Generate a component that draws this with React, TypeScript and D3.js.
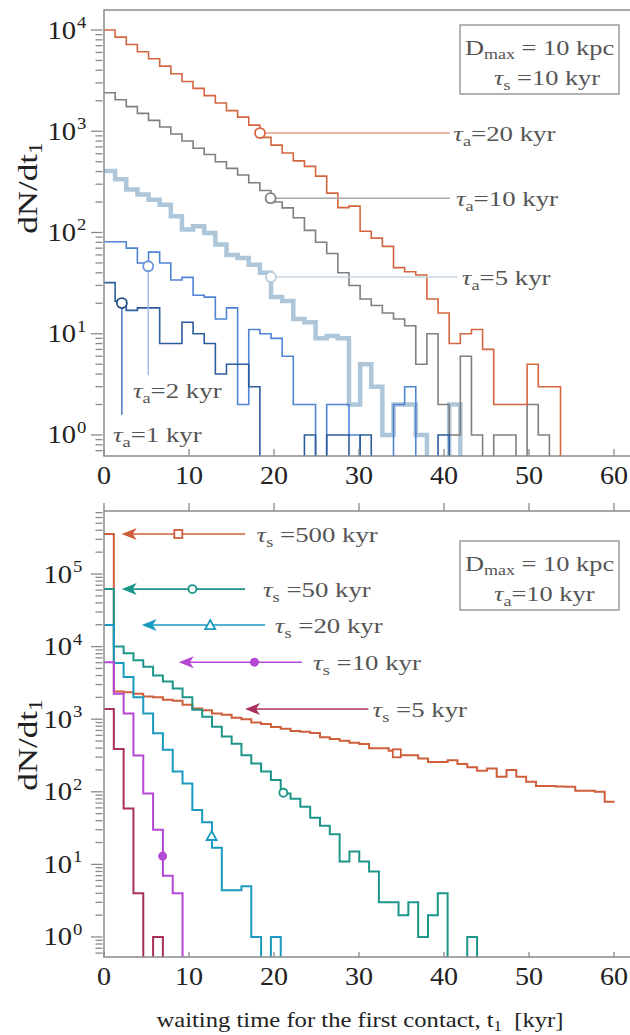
import React from 'react';
import * as d3 from 'd3';

const SERIF = "'Liberation Serif', 'Times New Roman', Times, serif";

// upper panel: tau_s = 10 kyr, bins of ~1.31 kyr
const topBinWidth = 1.31;
const tauA20 = [10000, 8500, 7200, 6100, 5200, 4400, 3700, 3100, 2650, 2250, 1900, 1600, 1380, 1150, 870, 730, 610, 510, 450, 360, 245, 176, 182, 103, 88, 73, 45, 41, 38, 22, 16, 8, 10, 11, 7, 2, 2, 2, 5, 3, 3];
const tauA10 = [2400, 2050, 1750, 1500, 1280, 1100, 940, 800, 680, 590, 500, 430, 370, 310, 260, 200, 175, 140, 105, 80, 62, 40, 30, 22, 19, 16, 14, 12, 5, 10, 2, 1, 6, 1, 0, 1, 1, 0, 2, 1];
const tauA5 = [405, 335, 266, 237, 211, 188, 145, 107, 115, 99, 76, 60, 56, 48, 40, 23, 21, 14, 13, 9, 9.5, 9, 2, 5, 3, 1, 2, 2, 1, 0, 0, 2];
const tauA2 = [81, 81, 70, 50, 64, 50, 34, 36, 24, 23, 14, 18, 2, 11, 10, 9, 6, 2, 2, 0, 2, 2, 1, 0, 0, 0, 2, 3];
const tauA1 = [32, 21, 17, 18, 18, 8, 8, 13, 10, 8, 4, 5, 5, 3, 0, 0, 0, 0, 1, 0, 1, 1, 0, 1, 0, 0, 0, 0, 0, 0, 1];

// lower panel: tau_a = 10 kyr, bins of ~1.155 kyr
const lowBinWidth = 1.155;
const tauS500 = [356000, 2400, 2350, 2250, 2050, 2000, 1850, 1800, 1580, 1400, 1330, 1200, 1150, 1050, 1000, 900, 860, 780, 740, 690, 673, 648, 563, 533, 506, 475, 456, 398, 398, 369, 318, 318, 288, 257, 257, 273, 241, 217, 195, 210, 161, 199, 161, 138, 120, 120, 118, 117, 103, 103, 100, 73];
const tauS50 = [62000, 10000, 8100, 6500, 5300, 4000, 3300, 2650, 2000, 1350, 1080, 790, 580, 460, 320, 245, 190, 145, 95, 80, 62, 44, 34, 26, 11, 15, 11, 8, 3, 3, 2, 3, 1, 2, 4, 0, 0, 1];
const tauS20 = [19800, 5950, 3800, 2000, 1200, 640, 380, 190, 130, 56, 38, 17, 4.4, 4.4, 5, 1, 0, 1];
const tauS10 = [6100, 2250, 1200, 317, 95, 30, 7, 4];
const tauS5 = [1380, 390, 59, 4, 0, 1];

const xTicks = [0, 10, 20, 30, 40, 50, 60];
const topDecades = [0, 1, 2, 3, 4];
const lowDecades = [0, 1, 2, 3, 4, 5];

const topSeries = [
  { vals: tauA5, color: '#adc6d9', width: 4.5 },
  { vals: tauA10, color: '#7f7f7f', width: 1.6 },
  { vals: tauA20, color: '#d4663f', width: 1.6 },
  { vals: tauA2, color: '#4f84d4', width: 1.6 },
  { vals: tauA1, color: '#2c5d9c', width: 1.6 },
];

const lowSeries = [
  { vals: tauS500, color: '#cf5f3a', drop: false },
  { vals: tauS50, color: '#1d968a', drop: true },
  { vals: tauS20, color: '#1a9ac0', drop: true },
  { vals: tauS10, color: '#b546d6', drop: true },
  { vals: tauS5, color: '#a8305c', drop: true },
];

// upper labels with horizontal leader lines (data units)
const topLeaders = [
  { text: '=20 kyr', cx: 18.35, cv: 960, lineTo: 40.7, textX: 41.1, color: '#d4663f', line: '#e2a088' },
  { text: '=10 kyr', cx: 19.6, cv: 218, lineTo: 40.7, textX: 41.4, color: '#7f7f7f', line: '#a8a8a8' },
  { text: '=5 kyr', cx: 19.65, cv: 36.3, lineTo: 41.6, textX: 42.1, color: '#b8cddd', line: '#c9d8e4' },
];
// upper labels with vertical leader lines
const topDrops = [
  { text: '=2 kyr', cx: 5.2, cv: 46.4, lineTo: 3.9, textX: 3.4, textV: 2.3, color: '#6b98dc', line: '#9dbbe6' },
  { text: '=1 kyr', cx: 2.1, cv: 20.1, lineTo: 1.58, textX: 1.06, textV: 0.85, color: '#244f85', line: '#3e6fb5' },
];

// lower arrows
const lowArrows = [
  { text: ' =500 kyr', v: 356000, tip: 2.08, tail: 16.6, mark: 8.74, shape: 'square', textX: 17.95, color: '#cf5f3a' },
  { text: ' =50 kyr', v: 62000, tip: 2.08, tail: 16.6, mark: 10.4, shape: 'circle', textX: 18.7, color: '#1d968a' },
  { text: ' =20 kyr', v: 19800, tip: 4.43, tail: 18.95, mark: 12.5, shape: 'triangle', textX: 20.1, color: '#1a9ac0' },
  { text: ' =10 kyr', v: 6100, tip: 8.8, tail: 23.3, mark: 17.7, shape: 'dot', textX: 24.6, color: '#b546d6' },
  { text: ' =5 kyr', v: 1380, tip: 16.6, tail: 31.1, mark: null, shape: null, textX: 31.6, color: '#a8305c' },
];
const curveMarks = [
  { x: 34.45, v: 339, shape: 'square', color: '#cf5f3a' },
  { x: 21.1, v: 97, shape: 'circle', color: '#1d968a' },
  { x: 12.66, v: 24.6, shape: 'triangle', color: '#1a9ac0' },
  { x: 6.9, v: 13, shape: 'dot', color: '#b546d6' },
];

const LEFT = 104;
const RIGHT = 630;
const top1 = 10, bot1 = 456, top2 = 511, bot2 = 957;

const x = d3.scaleLinear().domain([0, 60]).range([LEFT, 614]);
const yTop = d3.scaleLog().domain([0.62, 15760]).range([bot1, top1]);
const yLow = d3.scaleLog().domain([0.53, 738000]).range([bot2, top2]);

const axisColor = '#8a8a8a';
const noteColor = '#555';

function stepPath(vals: number[], bw: number, y: any, floor: number, drop = true) {
  const pts: [number, number][] = vals.map((v, i) => [x(i * bw), v > 0 ? y(v) : floor]);
  const last = vals[vals.length - 1];
  pts.push([x(vals.length * bw), last > 0 ? y(last) : floor]);
  if (drop) pts.push([x(vals.length * bw), floor]);
  return d3.line().curve(d3.curveStepAfter)(pts) || '';
}

function Label({ x: tx, y: ty, size, sx = 1, anchor = 'start', fill = '#222', rotate = 0, children }: any) {
  return (
    <text
      transform={`translate(${tx},${ty}) rotate(${rotate}) scale(${sx},1)`}
      style={{ fontFamily: SERIF, fontSize: size }}
      textAnchor={anchor}
      fill={fill}
    >
      {children}
    </text>
  );
}

function Tau({ sub, rest }: { sub: string; rest: string }) {
  return (
    <>
      <tspan fontStyle="italic">τ</tspan>
      <tspan style={{ fontSize: 15 }} dy={5}>{sub}</tspan>
      <tspan dy={-5}>{rest}</tspan>
    </>
  );
}

function Marker({ cx, cy, shape, color }: any) {
  if (shape === 'square') return <rect x={cx - 4} y={cy - 4} width={8} height={8} fill="white" stroke={color} strokeWidth={1.8} />;
  if (shape === 'circle') return <circle cx={cx} cy={cy} r={4} fill="white" stroke={color} strokeWidth={1.8} />;
  if (shape === 'triangle') return <path d={`M${cx},${cy - 5} L${cx + 5},${cy + 4} L${cx - 5},${cy + 4} Z`} fill="white" stroke={color} strokeWidth={1.8} />;
  if (shape === 'dot') return <circle cx={cx} cy={cy} r={4.5} fill={color} />;
  return null;
}

function YAxis({ y, decades, labelRight }: any) {
  const [lo, hi] = y.domain();
  const ticks: { v: number; major: boolean }[] = [];
  for (let k = -1; k <= 6; k++) {
    for (let m = 1; m <= 9; m++) {
      const v = m * Math.pow(10, k);
      if (v >= lo && v <= hi) ticks.push({ v, major: m === 1 });
    }
  }
  return (
    <g>
      {ticks.map((t, i) => (
        <line key={i} x1={t.major ? 91 : 95.5} x2={102.5} y1={y(t.v)} y2={y(t.v)} stroke={axisColor} strokeWidth={1.3} />
      ))}
      {decades.map((d: number) => (
        <g key={d}>
          <Label x={labelRight} y={y(Math.pow(10, d)) + 8.5} size={26} sx={1.1} anchor="end">10</Label>
          <Label x={labelRight + 1} y={y(Math.pow(10, d)) - 2} size={17} sx={1.1}>{String(d)}</Label>
        </g>
      ))}
    </g>
  );
}

function Frame({ top, bottom }: any) {
  return (
    <path
      d={`M${RIGHT + 2},${top} H${LEFT} V${bottom} H${RIGHT + 2}`}
      fill="none"
      stroke={axisColor}
      strokeWidth={1.5}
    />
  );
}

export default function App() {
  const floor1 = bot1 + 10;
  const floor2 = bot2 + 10;
  return (
    <svg width={630} height={1035} style={{ display: 'block', position: 'absolute', left: 0, top: 0, background: 'white' }}>
      <defs>
        <clipPath id="clipTop">
          <rect x={LEFT} y={top1} width={RIGHT - LEFT} height={bot1 - top1} />
        </clipPath>
        <clipPath id="clipLow">
          <rect x={LEFT} y={top2} width={RIGHT - LEFT} height={bot2 - top2} />
        </clipPath>
      </defs>
      <rect x={0} y={0} width={630} height={1035} fill="white" />

      {/* ---------- upper panel ---------- */}
      <g clipPath="url(#clipTop)">
        {topSeries.map((s, i) => (
          <path key={i} d={stepPath(s.vals, topBinWidth, yTop, floor1)} fill="none" stroke={s.color} strokeWidth={s.width} strokeLinejoin="miter" />
        ))}
      </g>
      {topLeaders.map((n, i) => (
        <g key={i}>
          <line x1={x(n.cx) + 5} x2={x(n.lineTo)} y1={yTop(n.cv)} y2={yTop(n.cv)} stroke={n.line} strokeWidth={1.4} />
          <circle cx={x(n.cx)} cy={yTop(n.cv)} r={5} fill="white" stroke={n.color} strokeWidth={1.8} />
          <Label x={x(n.textX)} y={yTop(n.cv) + 8} size={22} sx={1.22} fill={noteColor}>
            <Tau sub="a" rest={n.text} />
          </Label>
        </g>
      ))}
      {topDrops.map((n, i) => (
        <g key={i}>
          <line x1={x(n.cx)} x2={x(n.cx)} y1={yTop(n.cv) + 5} y2={yTop(n.lineTo)} stroke={n.line} strokeWidth={1.4} />
          <circle cx={x(n.cx)} cy={yTop(n.cv)} r={5} fill="white" stroke={n.color} strokeWidth={1.8} />
          <Label x={x(n.textX)} y={yTop(n.textV)} size={22} sx={1.22} fill={noteColor}>
            <Tau sub="a" rest={n.text} />
          </Label>
        </g>
      ))}
      <Frame top={top1} bottom={bot1} />
      {xTicks.map((t) => (
        <g key={t}>
          <line x1={x(t)} x2={x(t)} y1={bot1} y2={bot1 - 7} stroke={axisColor} strokeWidth={1.3} />
          <Label x={x(t)} y={484} size={26} sx={1.08} anchor="middle">{String(t)}</Label>
        </g>
      ))}
      <YAxis y={yTop} decades={topDecades} labelRight={76} />
      <Label x={37} y={188} size={27} sx={1.3} rotate={-90} anchor="middle">
        dN/dt<tspan style={{ fontSize: 18 }} dy={5}>1</tspan>
      </Label>
      <rect x={460} y={25} width={159} height={69} fill="white" stroke="#9a9a9a" strokeWidth={1.5} />
      <Label x={465} y={55} size={22} sx={1.2} fill={noteColor}>
        D<tspan style={{ fontSize: 15 }} dy={4}>max</tspan><tspan dy={-4}> = 10 kpc</tspan>
      </Label>
      <Label x={494} y={85} size={22} sx={1.2} fill={noteColor}>
        <Tau sub="s" rest=" =10 kyr" />
      </Label>

      {/* ---------- lower panel ---------- */}
      <g clipPath="url(#clipLow)">
        {lowSeries.map((s, i) => (
          <path key={i} d={stepPath(s.vals, lowBinWidth, yLow, floor2, s.drop)} fill="none" stroke={s.color} strokeWidth={2} />
        ))}
      </g>
      {curveMarks.map((m, i) => (
        <Marker key={i} cx={x(m.x)} cy={yLow(m.v)} shape={m.shape} color={m.color} />
      ))}
      {lowArrows.map((a, i) => {
        const yy = yLow(a.v);
        const tx = x(a.tip);
        return (
          <g key={i}>
            <line x1={tx + 8} x2={x(a.tail)} y1={yy} y2={yy} stroke={a.color} strokeWidth={1.6} />
            <path d={`M${tx},${yy} L${tx + 15},${yy - 6} L${tx + 11},${yy} L${tx + 15},${yy + 6} Z`} fill={a.color} />
            {a.mark !== null && <Marker cx={x(a.mark)} cy={yy} shape={a.shape} color={a.color} />}
            <Label x={x(a.textX)} y={yy + 8} size={22} sx={1.22} fill={noteColor}>
              <Tau sub="s" rest={a.text} />
            </Label>
          </g>
        );
      })}
      <Frame top={top2} bottom={bot2} />
      {xTicks.map((t) => (
        <g key={t}>
          <line x1={x(t)} x2={x(t)} y1={top2} y2={top2 - 8} stroke={axisColor} strokeWidth={1.3} />
          <line x1={x(t)} x2={x(t)} y1={bot2} y2={bot2 - 5} stroke={axisColor} strokeWidth={1.3} />
          <Label x={x(t)} y={985} size={26} sx={1.08} anchor="middle">{String(t)}</Label>
        </g>
      ))}
      <YAxis y={yLow} decades={lowDecades} labelRight={72} />
      <Label x={37} y={745} size={27} sx={1.3} rotate={-90} anchor="middle">
        dN/dt<tspan style={{ fontSize: 18 }} dy={5}>1</tspan>
      </Label>
      <rect x={460} y={541} width={159} height={69} fill="white" stroke="#9a9a9a" strokeWidth={1.5} />
      <Label x={465} y={571} size={22} sx={1.2} fill={noteColor}>
        D<tspan style={{ fontSize: 15 }} dy={4}>max</tspan><tspan dy={-4}> = 10 kpc</tspan>
      </Label>
      <Label x={494} y={601} size={22} sx={1.2} fill={noteColor}>
        <Tau sub="a" rest="=10 kyr" />
      </Label>

      <Label x={360} y={1027} size={22} sx={1.12} anchor="middle">
        waiting time for the first contact, t<tspan style={{ fontSize: 15 }} dy={4}>1</tspan><tspan dy={-4}>{'\u00a0\u00a0[kyr]'}</tspan>
      </Label>
    </svg>
  );
}
